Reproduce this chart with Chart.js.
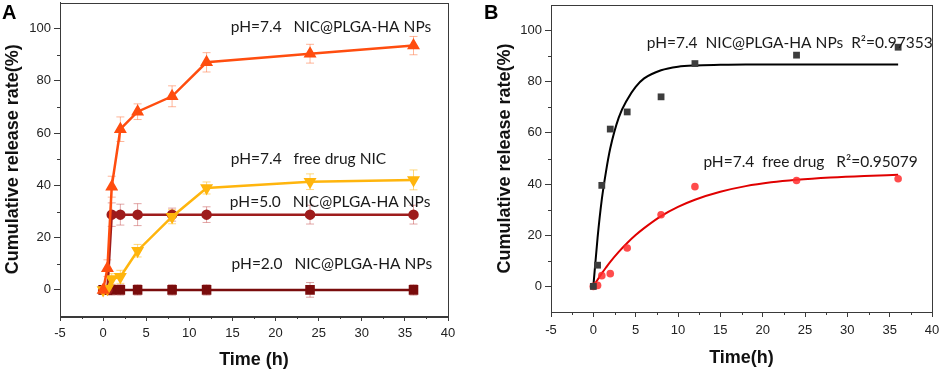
<!DOCTYPE html>
<html>
<head>
<meta charset="utf-8">
<script src="https://cdn.jsdelivr.net/npm/chart.js@4.4.1/dist/chart.umd.min.js"></script>
<style>
  body { margin: 0; background: #fff; width: 941px; height: 371px; position: relative; overflow: hidden; }
  canvas { position: absolute; top: 0; }
  /* panel A is shifted up a little: the markers' overflow guard keeps its plot 7.5px from the canvas top */
  #chartA { left: 0; top: -5px; }
  #chartB { left: 470px; }
</style>
</head>
<body>
<canvas id="chartA" width="470" height="376"></canvas>
<canvas id="chartB" width="471" height="371"></canvas>
<script>
// ---- data (time in h, release in %) ----
var timePoints = [0, 0.5, 1, 2, 4, 8, 12, 24, 36];

var np74 = [0, 8.3, 39.5, 61.5, 68.2, 74.1, 87.1, 90.4, 93.5];
var np74Err = [1.5, 3.2, 4, 4.7, 3, 4, 3.7, 3.6, 3.5];
var free74 = [0, 0.4, 4.2, 5, 15, 28, 39, 41.4, 42.1];
var free74Err = [1.5, 1.5, 2, 2.5, 2.4, 2.7, 2.3, 3, 3.8];
var np50 = [0, 0, 28.8, 28.8, 28.8, 28.8, 28.8, 28.8, 28.8];
var np50Err = [1.5, 1.5, 4.5, 4, 4.2, 2.5, 3, 3.6, 3.6];
var np20 = [0, 0, 0, 0, 0, 0, 0, 0, 0];
var np20Err = [1.5, 1.5, 2, 2, 2, 2, 2, 2.8, 2];

// fitted curves
var fitTime = [0, 0.5, 1, 1.5, 2, 3, 4, 5, 6, 8, 10, 12, 15, 18, 21, 24, 28, 32, 36];
var fitNP = [0, 19, 34, 45, 54, 66, 73, 78, 81.3, 84.5, 85.9, 86.4, 86.6, 86.7, 86.7, 86.7, 86.7, 86.7, 86.7];
var fitFree = [0, 2.6, 5.1, 7.4, 9.6, 13.5, 17, 20.1, 22.8, 27.5, 31.1, 33.9, 37, 39.2, 40.7, 41.7, 42.6, 43.2, 43.6];

// axes
var xTicks = [-5, 0, 5, 10, 15, 20, 25, 30, 35, 40];
var xMinor = [-2.5, 2.5, 7.5, 12.5, 17.5, 22.5, 27.5, 32.5, 37.5];
var yTicks = [0, 20, 40, 60, 80, 100];
var yMinor = [10, 30, 50, 70, 90];

var notesA = ['pH=7.4   NIC@PLGA-HA NPs', 'pH=7.4   free drug NIC', 'pH=5.0   NIC@PLGA-HA NPs', 'pH=2.0   NIC@PLGA-HA NPs'];
var notesB = ['pH=7.4  NIC@PLGA-HA NPs  R\u00b2=0.97353', 'pH=7.4  free drug   R\u00b2=0.95079'];

function pts(xs, ys) {
    return xs.map(function (x, i) { return { x: x, y: ys[i] }; });
}

var tickFont = { family: '"Liberation Sans", Arial, sans-serif', size: 13 };
var titleFont = { family: '"Liberation Sans", Arial, sans-serif', size: 18, weight: 'bold' };
var noteFont = '15.5px Lato, "Open Sans", sans-serif';
var axisColor = '#3a3a3a';

// error bars behind the markers
var errorBars = {
    id: 'errorBars',
    beforeDatasetsDraw: function (chart) {
        var ctx = chart.ctx;
        var ys = chart.scales.y;
        chart.data.datasets.forEach(function (ds, i) {
            if (!ds.errors) return;
            var meta = chart.getDatasetMeta(i);
            ctx.save();
            ctx.strokeStyle = ds.errorColor;
            ctx.lineWidth = 1;
            meta.data.forEach(function (pt, j) {
                var v = ds.data[j].y;
                var top = ys.getPixelForValue(v + ds.errors[j]);
                var bot = ys.getPixelForValue(v - ds.errors[j]);
                ctx.beginPath();
                ctx.moveTo(pt.x, top); ctx.lineTo(pt.x, bot);
                ctx.moveTo(pt.x - 4, top); ctx.lineTo(pt.x + 4, top);
                ctx.moveTo(pt.x - 4, bot); ctx.lineTo(pt.x + 4, bot);
                ctx.stroke();
            });
            ctx.restore();
        });
    }
};

// box frame + minor ticks
var frame = {
    id: 'frame',
    afterDraw: function (chart) {
        var a = chart.chartArea, ctx = chart.ctx;
        ctx.save();
        ctx.strokeStyle = axisColor;
        ctx.lineWidth = 1;
        ctx.strokeRect(Math.round(a.left) + 0.5, Math.round(a.top) + 0.5, Math.round(a.right - a.left), Math.round(a.bottom - a.top));
        ctx.beginPath();
        xMinor.forEach(function (v) {
            var px = Math.round(chart.scales.x.getPixelForValue(v)) + 0.5;
            ctx.moveTo(px, a.bottom); ctx.lineTo(px, a.bottom + 3);
        });
        yMinor.forEach(function (v) {
            var py = Math.round(chart.scales.y.getPixelForValue(v)) + 0.5;
            ctx.moveTo(a.left, py); ctx.lineTo(a.left - 3, py);
        });
        ctx.stroke();
        ctx.restore();
    }
};

// text labels placed at data coordinates
var notes = {
    id: 'notes',
    afterDraw: function (chart, args, opts) {
        var ctx = chart.ctx;
        ctx.save();
        ctx.font = noteFont;
        ctx.fillStyle = '#1a1a1a';
        ctx.textBaseline = 'middle';
        opts.items.forEach(function (it) {
            ctx.fillText(it.text, chart.scales.x.getPixelForValue(it.x), chart.scales.y.getPixelForValue(it.y));
        });
        ctx.font = 'bold 20px "Liberation Sans", Arial, sans-serif';
        ctx.fillStyle = '#000';
        ctx.textBaseline = 'top';
        ctx.fillText(opts.letter, opts.letterX, opts.letterY);
        ctx.restore();
    }
};

function scalesFor(xTitle, yW, xH, yTitlePad, xTitlePad, xTickPad) {
    return {
        x: {
            type: 'linear', min: -5, max: 40,
            afterBuildTicks: function (s) { s.ticks = xTicks.map(function (v) { return { value: v }; }); },
            afterFit: function (s) { s.height = xH; s.paddingLeft = 0; s.paddingRight = 0; },
            ticks: { font: tickFont, color: '#222', padding: xTickPad },
            grid: { drawOnChartArea: false, tickLength: 5, color: axisColor },
            border: { color: axisColor },
            title: { display: true, text: xTitle, font: titleFont, color: '#111', padding: { top: 0, bottom: xTitlePad } }
        },
        y: {
            min: -10, max: 110,
            afterBuildTicks: function (s) { s.ticks = yTicks.map(function (v) { return { value: v }; }); },
            afterFit: function (s) { s.width = yW; s.paddingTop = 0; s.paddingBottom = 0; },
            ticks: { font: tickFont, color: '#222', padding: 3 },
            grid: { drawOnChartArea: false, tickLength: 6, color: axisColor },
            border: { color: axisColor },
            title: { display: true, text: 'Cumulative release rate(%)', font: titleFont, color: '#111', padding: { top: yTitlePad, bottom: 0 } }
        }
    };
}

// ---- panel A ----
new Chart(document.getElementById('chartA'), {
    type: 'line',
    data: {
        datasets: [{
            data: pts(timePoints, np74), errors: np74Err, errorColor: 'rgba(255,120,70,0.55)',
            borderColor: '#ff4d0f', backgroundColor: '#ff4d0f', borderWidth: 2.5,
            pointStyle: 'triangle', pointRadius: 5
        }, {
            data: pts(timePoints, free74), errors: free74Err, errorColor: 'rgba(255,190,40,0.6)',
            borderColor: '#ffb50d', backgroundColor: '#ffb50d', borderWidth: 2.5,
            pointStyle: 'triangle', pointRotation: 180, pointRadius: 5
        }, {
            data: pts(timePoints, np50), errors: np50Err, errorColor: 'rgba(200,80,80,0.5)',
            borderColor: '#9e1c1c', backgroundColor: '#9e1c1c', borderWidth: 2.5,
            pointStyle: 'circle', pointRadius: 4
        }, {
            data: pts(timePoints, np20), errors: np20Err, errorColor: 'rgba(180,70,70,0.5)',
            borderColor: '#7a0c0c', backgroundColor: '#7a0c0c', borderWidth: 2.5,
            pointStyle: 'rect', pointRadius: 5
        }]
    },
    options: {
        responsive: false, animation: false,
        layout: { padding: { top: 3, right: 22, left: 0, bottom: 0 } },
        plugins: {
            legend: { display: false }, tooltip: { enabled: false },
            notes: {
                letter: 'A', letterX: 2, letterY: 8,
                items: [
                    { x: 14.8, y: 100.8, text: notesA[0] },
                    { x: 14.8, y: 50.2, text: notesA[1] },
                    { x: 14.7, y: 33.7, text: notesA[2] },
                    { x: 14.9, y: 10, text: notesA[3] }
                ]
            }
        },
        scales: scalesFor('Time (h)', 60, 55, 2, 0, 5)
    },
    plugins: [errorBars, frame, notes]
});

// ---- panel B ----
new Chart(document.getElementById('chartB'), {
    type: 'line',
    data: {
        datasets: [{
            data: pts(timePoints, np74), showLine: false,
            backgroundColor: '#3d3d3d', borderColor: '#3d3d3d', borderWidth: 0,
            pointStyle: 'rect', pointRadius: 4.8
        }, {
            data: pts(timePoints, free74), showLine: false,
            backgroundColor: 'rgba(255,45,45,0.85)', borderColor: 'rgba(255,45,45,0.85)', borderWidth: 0,
            pointStyle: 'circle', pointRadius: 3.8
        }, {
            data: pts(fitTime, fitNP), borderColor: '#000', borderWidth: 2,
            pointRadius: 0, cubicInterpolationMode: 'monotone'
        }, {
            data: pts(fitTime, fitFree), borderColor: '#e00000', borderWidth: 2,
            pointRadius: 0, cubicInterpolationMode: 'monotone'
        }]
    },
    options: {
        responsive: false, animation: false,
        layout: { padding: { top: 5, right: 9, left: 0, bottom: 0 } },
        plugins: {
            legend: { display: false }, tooltip: { enabled: false },
            notes: {
                letter: 'B', letterX: 14, letterY: 3,
                items: [
                    { x: 6.3, y: 95.3, text: notesB[0] },
                    { x: 13.0, y: 48.8, text: notesB[1] }
                ]
            }
        },
        scales: scalesFor('Time(h)', 81, 59, 24, 2.5, 6)
    },
    plugins: [frame, notes]
});
</script>
</body>
</html>
